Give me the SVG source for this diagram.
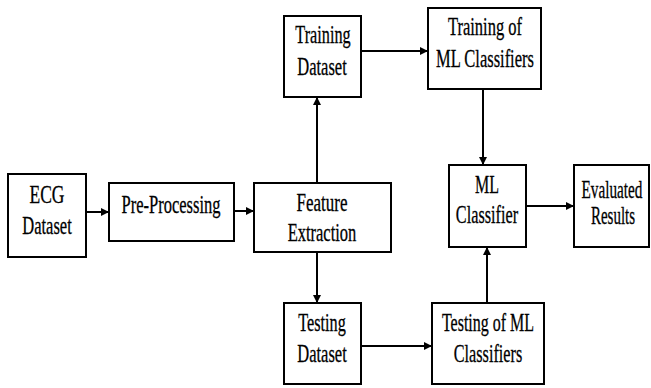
<svg xmlns="http://www.w3.org/2000/svg" width="651" height="388" viewBox="0 0 651 388">
<style>
.box{fill:#fff;stroke:#000;stroke-width:2}
.lbl{font-family:'Liberation Serif','Times New Roman',serif;font-size:25px;fill:#000;text-anchor:middle;stroke:#000;stroke-width:0.3}
.con{stroke:#000;stroke-width:2;fill:none;marker-end:url(#ah)}
</style>
<defs>
<marker id="ah" viewBox="0 0 8 8" refX="8" refY="4" markerWidth="4" markerHeight="4" markerUnits="strokeWidth" orient="auto">
<path d="M0,0 L8,4 L0,8 Z" fill="#000"/>
</marker>
</defs>
<rect width="651" height="388" fill="#fff"/>
<g id="connectors">
<line class="con" x1="86" y1="212" x2="109" y2="212"/>
<line class="con" x1="234" y1="211" x2="254" y2="211"/>
<line class="con" x1="317" y1="183" x2="317" y2="97"/>
<line class="con" x1="317" y1="252" x2="317" y2="303"/>
<line class="con" x1="361" y1="51" x2="428" y2="51"/>
<line class="con" x1="483" y1="89" x2="483" y2="165"/>
<line class="con" x1="361" y1="346" x2="432" y2="346"/>
<line class="con" x1="487" y1="303" x2="487" y2="247"/>
<line class="con" x1="526" y1="206" x2="574" y2="206"/>
</g>
<g id="ecg">
<rect class="box" x="8" y="174" width="78" height="83"/>
<text class="lbl" transform="translate(47,203) scale(0.70,1)">ECG</text>
<text class="lbl" transform="translate(47,234) scale(0.66,1)">Dataset</text>
</g>
<g id="preprocessing">
<rect class="box" x="109" y="183" width="125" height="58"/>
<text class="lbl" transform="translate(171,213) scale(0.66,1)">Pre-Processing</text>
</g>
<g id="feature">
<rect class="box" x="254" y="183" width="137" height="69"/>
<text class="lbl" transform="translate(322,211) scale(0.68,1)">Feature</text>
<text class="lbl" transform="translate(322,241) scale(0.66,1)">Extraction</text>
</g>
<g id="training-dataset">
<rect class="box" x="284" y="16" width="77" height="81"/>
<text class="lbl" transform="translate(323,43) scale(0.65,1)">Training</text>
<text class="lbl" transform="translate(322,75) scale(0.66,1)">Dataset</text>
</g>
<g id="training-ml">
<rect class="box" x="428" y="8" width="113" height="81"/>
<text class="lbl" transform="translate(485,35) scale(0.66,1)">Training of</text>
<text class="lbl" transform="translate(485,67) scale(0.66,1)">ML Classifiers</text>
</g>
<g id="ml-classifier">
<rect class="box" x="449" y="165" width="77" height="82"/>
<text class="lbl" transform="translate(487,193) scale(0.64,1)">ML</text>
<text class="lbl" transform="translate(487,223) scale(0.65,1)">Classifier</text>
</g>
<g id="evaluated">
<rect class="box" x="574" y="165" width="75" height="82"/>
<text class="lbl" transform="translate(612,198) scale(0.61,1)">Evaluated</text>
<text class="lbl" transform="translate(613,224) scale(0.60,1)">Results</text>
</g>
<g id="testing-dataset">
<rect class="box" x="284" y="303" width="77" height="81"/>
<text class="lbl" transform="translate(322,331) scale(0.65,1)">Testing</text>
<text class="lbl" transform="translate(322,362) scale(0.66,1)">Dataset</text>
</g>
<g id="testing-ml">
<rect class="box" x="432" y="303" width="112" height="81"/>
<text class="lbl" transform="translate(488,331) scale(0.64,1)">Testing of ML</text>
<text class="lbl" transform="translate(488,362) scale(0.65,1)">Classifiers</text>
</g>
</svg>
